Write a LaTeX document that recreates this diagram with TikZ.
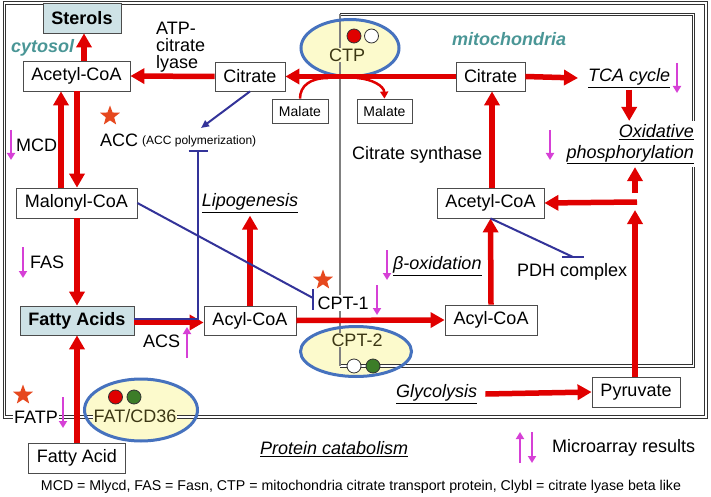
\documentclass[tikz,border=0pt]{standalone}
\usepackage{fontspec}
\setmainfont{Liberation Sans}
\usetikzlibrary{arrows.meta,shapes.geometric,calc}
\definecolor{rd}{RGB}{224,0,0}
\definecolor{mg}{RGB}{214,64,214}
\definecolor{bl}{RGB}{51,51,153}
\definecolor{ellb}{RGB}{70,114,190}
\definecolor{ellf}{RGB}{252,250,204}
\definecolor{ellt}{RGB}{60,55,20}
\definecolor{boxf}{RGB}{206,226,230}
\definecolor{orgc}{RGB}{74,150,150}
\definecolor{starc}{RGB}{230,72,30}
\definecolor{grn}{RGB}{60,125,40}
\definecolor{gry}{RGB}{128,128,128}
\begin{document}
\begin{tikzpicture}[x=1pt,y=-1pt,
  every node/.style={font=\fontsize{18}{20}\selectfont, inner sep=0pt},
  cbox/.style={draw=black!70, line width=0.8pt, fill=white, minimum height=30pt},
  fabox/.style={cbox, fill=boxf, font=\fontsize{18}{20}\selectfont\bfseries},
  malbox/.style={cbox, minimum height=24pt, font=\fontsize{14}{16}\selectfont},
  redarr/.style={draw=rd, line width=5.5pt, -{Triangle[length=14pt,width=15pt]}},
  thinred/.style={draw=rd, line width=2.5pt},
  mgarr/.style={draw=mg, line width=2.5pt, -{Triangle[length=7pt,width=8pt]}},
  inh/.style={draw=bl, line width=2pt},
  inhbar/.style={draw=bl, line width=2.5pt},
  dbl/.style={draw=black!80, double=white, double distance=1.6pt, line width=0.8pt},
  ellfill/.style={ellipse, fill=ellf},
  elldraw/.style={ellipse, draw=ellb, line width=3pt},
  uline/.style={font=\fontsize{18}{20}\selectfont\itshape},
  orgtxt/.style={font=\fontsize{18}{20}\selectfont\bfseries\itshape, text=orgc},
  starn/.style={star, star points=5, star point ratio=2.4, fill=starc, minimum size=21pt},
  dotc/.style={circle, draw=black!80, line width=0.8pt, minimum size=14pt},
  etxt/.style={fill=ellf, text=ellt, inner sep=1pt},
]
\useasboundingbox (0,0) rectangle (711,497);

% ellipse fills
\node[ellfill, minimum width=98pt, minimum height=57pt] (ctpf) at (350,48) {};
\node[ellfill, minimum width=111pt, minimum height=50pt] (cpt2f) at (356,351.5) {};
\node[ellfill, minimum width=113pt, minimum height=62pt] (fatf) at (141,410) {};

% compartments
\coordinate (o1) at (4.5,3);
\coordinate (o2) at (706,417);
\draw[dbl] (o1) rectangle (o2);
\coordinate (m1) at (340,14.5);
\coordinate (m2) at (693.5,14.5);
\coordinate (m3) at (693.5,366);
\coordinate (m4) at (340,366);
\draw[dbl] (m1) -- (m2) -- (m3) -- (m4);
\draw[draw=gry, line width=2.8pt] (m1) -- (m4);

% ellipse outlines
\node[elldraw, minimum width=98pt, minimum height=57pt] (ctp) at (350,48) {};
\node[elldraw, minimum width=111pt, minimum height=50pt] (cpt2) at (356,351.5) {};
\node[elldraw, minimum width=113pt, minimum height=62pt] (fat) at (141,410) {};

\node[etxt] (ctpt) at (347,55) {CTP};
\node[etxt] (cpt2t) at (357,340) {CPT-2};
\node[etxt] (fatt) at (135,416) {FAT/CD36};
\node[dotc, fill=rd] (c1) at (354,36) {};
\node[dotc, fill=white] (c2) at (371.5,36) {};
\node[dotc, fill=white] (c3) at (354,366) {};
\node[dotc, fill=grn] (c4) at (373,366) {};
\node[dotc, fill=rd] (c5) at (115.5,397) {};
\node[dotc, fill=grn] (c6) at (134,397) {};

% boxes
\node[fabox, minimum width=78pt] (sterols) at (82,18) {Sterols};
\node[cbox, minimum width=107pt] (accc) at (76.5,76) {Acetyl-CoA};
\node[cbox, minimum width=70pt, minimum height=29pt] (citc) at (250,76.5) {Citrate};
\node[malbox, minimum width=56pt] (malL) at (300,111) {Malate};
\node[malbox, minimum width=55pt] (malR) at (384.5,111) {Malate};
\node[cbox, minimum width=69pt, minimum height=29pt] (citm) at (490.5,76.5) {Citrate};
\node[cbox, minimum width=107pt] (accm) at (490.5,203) {Acetyl-CoA};
\node[cbox, minimum width=121pt] (malonyl) at (76.5,203) {Malonyl-CoA};
\node[fabox, minimum width=114pt, minimum height=29pt] (fas) at (77,320.5) {Fatty Acids};
\node[cbox, minimum width=92pt, minimum height=29pt] (acylc) at (250,320.5) {Acyl-CoA};
\node[cbox, minimum width=92pt] (acylm) at (491,320) {Acyl-CoA};
\node[cbox, minimum width=88pt] (pyr) at (636,392) {Pyruvate};
\node[cbox, minimum width=97pt] (fa) at (77,458) {Fatty Acid};

% labels
\node[anchor=west, align=left, font=\fontsize{18}{17}\selectfont] (acl) at (156,47) {ATP-\\citrate\\lyase};
\node[orgtxt, anchor=west] (cyto) at (11,48) {cytosol};
\node[orgtxt, anchor=west] (mito) at (452,39) {mitochondria};
\node[anchor=west] (mcd) at (16,145) {MCD};
\node[anchor=west] (fasl) at (30,262) {FAS};
\node[anchor=west] (acc) at (100,140) {ACC};
\node[anchor=west, font=\fontsize{12}{14}\selectfont] (accp) at (142,141) {(ACC polymerization)};
\node[uline] (lipo) at (250,203) {\underline{Lipogenesis}};
\node[anchor=west, fill=white, inner sep=1.5pt] (cpt1) at (316,303) {CPT-1};
\node[uline, anchor=west] (box) at (393,266) {\underline{β-oxidation}};
\node[anchor=west] (cs) at (352,155) {Citrate synthase};
\node[uline, anchor=west] (tca) at (588,78) {\underline{TCA cycle}};
\node[uline, anchor=east, align=right, fill=white, inner xsep=2pt, inner ysep=3pt, font=\fontsize{18}{21}\selectfont\itshape] (ox) at (696,144) {\underline{Oxidative}\\\underline{phosphorylation}};
\node[anchor=west] (pdh) at (517,272) {PDH complex};
\node[anchor=west] (acs) at (143,341) {ACS};
\node[anchor=west, fill=white, inner xsep=1pt, inner ysep=2pt] (fatp) at (13,417) {FATP};
\node[uline, anchor=west] (gly) at (396,394) {\underline{Glycolysis}};
\node[uline, anchor=west] (prot) at (260,449) {\underline{Protein catabolism}};
\node[anchor=west] (micro) at (552,448) {Microarray results};
\node[font=\fontsize{14.2}{16}\selectfont] (cap) at (361,487) {MCD = Mlycd, FAS = Fasn, CTP = mitochondria citrate transport protein, Clybl = citrate lyase beta like};

% stars
\node[starn] (s1) at (110,116) {};
\node[starn] (s2) at (323,280) {};
\node[starn] (s3) at (23,395) {};

% red arrows
\draw[redarr] ($(accc.north)+(7.5,0)$) -- ($(sterols.south)+(2,0)$);
\draw[redarr] (citc.west) -- (accc.east);
\draw[redarr] (citm.west) -- (citc.east);
\draw[redarr] ($(malonyl.north)+(-15.5,0)$) -- ($(accc.south)+(-15.5,0)$);
\draw[redarr] ($(accc.south)+(0.5,0)$) -- ($(malonyl.north)+(0.5,0)$);
\draw[redarr] ($(malonyl.south)+(0.5,0)$) -- (fas.north);
\draw[redarr] (fa.north) -- (fas.south);
\draw[redarr] ($(fas.east)+(0,2)$) -- ($(acylc.west)+(0,2)$);
\draw[redarr] (acylc.north) -- ($(lipo.south)+(0,3)$);
\draw[redarr] (acylc.east) -- (acylm.west);
\draw[redarr] (acylm.north) -- (accm.south);
\draw[redarr] ($(accm.north)+(1.5,0)$) -- ($(citm.south)+(1.5,0)$);
\draw[redarr] (citm.east) -- ($(tca.west)+(-10,0)$);
\draw[redarr] ($(tca.south)+(0,2)$) -- (tca.south |- ox.north);
\coordinate (jA) at (635,210);
\coordinate (jB) at (637,202);
\coordinate (jC) at (635,193);
\draw[redarr] (pyr.north -| jA) -- (jA);
\draw[redarr] (jB) -- (accm.east);
\draw[redarr] (jC) -- (jC |- ox.south);
\draw[redarr] ($(gly.east)+(8,0)$) -- (pyr.west);

% malate exchange
\coordinate (cL) at (328,78);
\coordinate (cR) at (357,78);
\draw[thinred] (malL.north) .. controls (300,86) and (310,78) .. (cL);
\draw[thinred, -{Triangle[length=7pt,width=8pt]}] (cR) .. controls (372,79) and (384,86) .. (malR.north);

% blue regulation
\coordinate (accbar) at (198,151);
\coordinate (accbarL) at (188.5,151);
\coordinate (accbarR) at (208,151);
\coordinate (accarr) at (201,128);
\draw[inh] ($(fas.east)+(0,-1.5)$) -| (accbar);
\draw[inhbar] (accbarL) -- (accbarR);
\draw[inh, -{Triangle[length=8pt,width=7pt]}] (citc.south) -- (accarr);
\coordinate (cpt1bar) at (313,298);
\coordinate (cpt1barT) at (313,289);
\coordinate (cpt1barB) at (313,310);
\draw[inh] (malonyl.east) -- (cpt1bar);
\draw[inhbar] (cpt1barT) -- (cpt1barB);
\coordinate (pdhbar) at (573,257);
\coordinate (pdhbarL) at (562,257);
\coordinate (pdhbarR) at (584,257);
\draw[inh] (accm.south) -- (pdhbar);
\draw[inhbar] (pdhbarL) -- (pdhbarR);

% microarray arrows
\coordinate (a1) at (11,130); \coordinate (b1) at (11,160);
\coordinate (a2) at (23,247); \coordinate (b2) at (23,278);
\coordinate (a3) at (187,358); \coordinate (b3) at (187,327);
\coordinate (a4) at (63,397); \coordinate (b4) at (63,428);
\coordinate (a5) at (387,250); \coordinate (b5) at (387,280);
\coordinate (a6) at (377,285); \coordinate (b6) at (377,315);
\coordinate (a7) at (550,130); \coordinate (b7) at (550,160);
\coordinate (a8) at (677,63); \coordinate (b8) at (677,93);
\coordinate (a9) at (520,463); \coordinate (b9) at (520,432);
\coordinate (a10) at (532,432); \coordinate (b10) at (532,463);
\foreach \i in {1,...,10} {\draw[mgarr] (a\i) -- (b\i);}
\end{tikzpicture}
\end{document}
